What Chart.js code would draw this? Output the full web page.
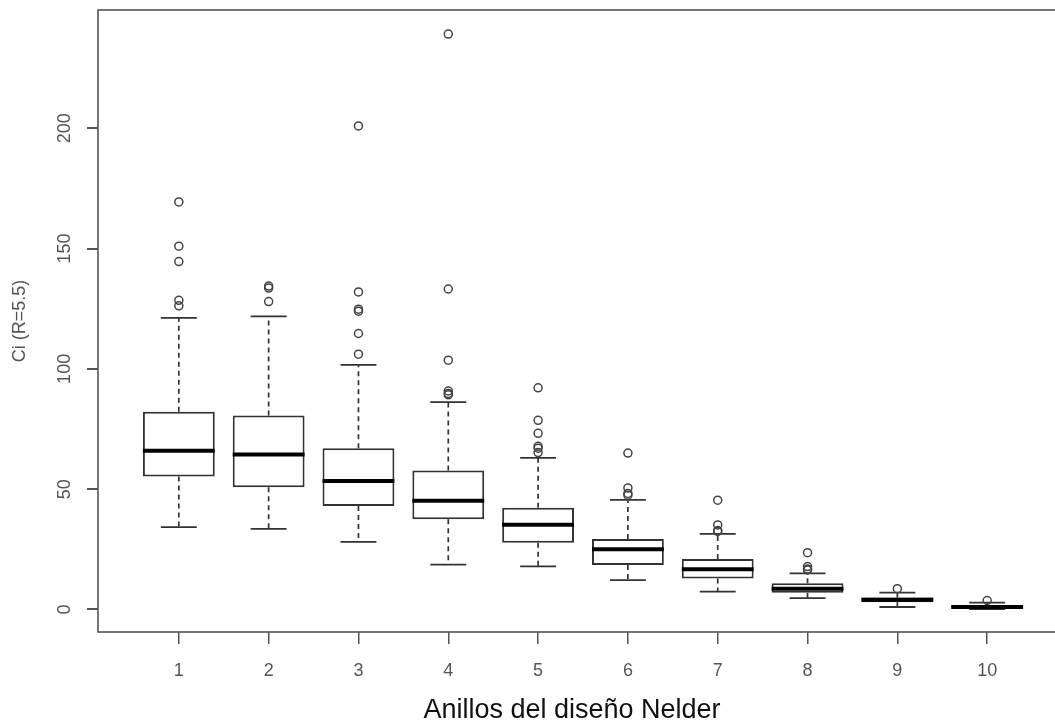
<!DOCTYPE html>
<html>
<head>
<meta charset="utf-8">
<script src="https://cdn.jsdelivr.net/npm/chart.js@4"></script>
<style>
  html, body { margin: 0; padding: 0; background: #fff; overflow: hidden; }
  #wrap { width: 1055px; height: 728px; overflow: hidden; }
  #box { width: 1075px; height: 728px; }
</style>
</head>
<body>
<div id="wrap"><div id="box"><canvas id="chart"></canvas></div></div>
<script>
// rings of the Nelder design and box statistics
const rings = [1, 2, 3, 4, 5, 6, 7, 8, 9, 10];
const lowWhisker = [34.2, 33.5, 28.1, 18.6, 17.9, 12.2, 7.4, 4.7, 1.0, 0.1];
const q1 = [55.2, 50.8, 43.0, 37.5, 27.7, 18.5, 12.8, 6.9, 3.0, 0.5];
const median = [66.0, 64.4, 53.4, 45.2, 35.2, 25.0, 16.7, 8.6, 4.0, 1.0];
const q3 = [82.2, 80.6, 67.0, 57.7, 42.3, 29.3, 21.0, 10.9, 4.9, 1.6];
const highWhisker = [121.2, 121.8, 101.7, 86.2, 63.0, 45.5, 31.4, 15.0, 7.0, 2.8];
const outliers = [
  [169.4, 151.0, 144.6, 128.5, 126.2],
  [134.4, 133.6, 128.0],
  [201.0, 132.0, 124.8, 124.0, 114.7, 106.1],
  [239.2, 133.2, 103.6, 90.8, 89.8, 89.2],
  [92.1, 78.6, 73.2, 67.8, 67.0, 65.2],
  [65.0, 50.5, 48.2, 47.5],
  [45.4, 35.1, 32.8, 32.4],
  [23.6, 17.8, 16.8, 16.4],
  [8.6],
  [3.7]
];
const yTicks = [0, 50, 100, 150, 200];
const xTitle = 'Anillos del diseño Nelder';
const yTitle = 'Ci (R=5.5)';

const lineCol = '#333';
const textCol = '#555';
const capHalf = 0.2;
const medHalf = 0.4;

const datasets = [];

// boxes (Q1..Q3) as floating bars
datasets.push({
  type: 'bar',
  data: rings.map((r, i) => ({ x: r, y: [q1[i], q3[i]] })),
  backgroundColor: '#fff',
  borderColor: lineCol,
  borderWidth: 2,
  borderSkipped: false,
  barPercentage: 0.8,
  categoryPercentage: 1.0,
  order: 2
});

rings.forEach((r, i) => {
  // dashed whiskers
  datasets.push({
    type: 'line',
    data: [{ x: r, y: q3[i] }, { x: r, y: highWhisker[i] }],
    borderColor: lineCol, borderWidth: 1.7, borderDash: [5, 4],
    pointRadius: 0, order: 3
  });
  datasets.push({
    type: 'line',
    data: [{ x: r, y: q1[i] }, { x: r, y: lowWhisker[i] }],
    borderColor: lineCol, borderWidth: 1.7, borderDash: [5, 4],
    pointRadius: 0, order: 3
  });
  // staples
  datasets.push({
    type: 'line',
    data: [{ x: r - capHalf, y: highWhisker[i] }, { x: r + capHalf, y: highWhisker[i] }],
    borderColor: lineCol, borderWidth: 1.8, pointRadius: 0, order: 3
  });
  datasets.push({
    type: 'line',
    data: [{ x: r - capHalf, y: lowWhisker[i] }, { x: r + capHalf, y: lowWhisker[i] }],
    borderColor: lineCol, borderWidth: 1.8, pointRadius: 0, order: 3
  });
  // median
  datasets.push({
    type: 'line',
    data: [{ x: r - medHalf, y: median[i] }, { x: r + medHalf, y: median[i] }],
    borderColor: '#000', borderWidth: 4, pointRadius: 0, order: 1
  });
});

// outlying points
const outPts = [];
rings.forEach((r, i) => outliers[i].forEach(v => outPts.push({ x: r, y: v })));
datasets.push({
  type: 'scatter',
  data: outPts,
  pointStyle: 'circle',
  pointRadius: 4,
  borderColor: '#444',
  backgroundColor: 'rgba(0,0,0,0)',
  borderWidth: 1.5,
  order: 0
});

const frameAndText = {
  id: 'frameAndText',
  afterDraw(chart) {
    const ctx = chart.ctx;
    const a = chart.chartArea;
    const y = chart.scales.y;
    ctx.save();
    ctx.setLineDash([]);
    ctx.strokeStyle = '#555';
    ctx.lineWidth = 1.6;
    ctx.strokeRect(a.left, a.top, a.right - a.left, a.bottom - a.top);
    // y tick marks, outside the frame as in R
    ctx.fillStyle = '#555';
    for (const v of yTicks) {
      const py = Math.round(y.getPixelForValue(v));
      ctx.fillRect(a.left - 11, py - 1, 11, 2);
    }
    // rotated y tick labels
    ctx.fillStyle = textCol;
    ctx.font = '18px "Liberation Sans", Arial, sans-serif';
    ctx.textAlign = 'center';
    ctx.textBaseline = 'middle';
    for (const v of yTicks) {
      ctx.save();
      ctx.translate(65, y.getPixelForValue(v));
      ctx.rotate(-Math.PI / 2);
      ctx.fillText(String(v), 0, 0);
      ctx.restore();
    }
    ctx.fillStyle = '#111';
    ctx.font = '27px "Liberation Sans", Arial, sans-serif';
    ctx.fillText(xTitle, 572, 711);
    ctx.restore();
  }
};

new Chart(document.getElementById('chart'), {
  type: 'bar',
  data: { datasets },
  plugins: [frameAndText],
  options: {
    responsive: true,
    maintainAspectRatio: false,
    animation: false,
    layout: { padding: { top: 10, right: 7, bottom: 0, left: 0 } },
    plugins: { legend: { display: false }, tooltip: { enabled: false } },
    scales: {
      x: {
        type: 'linear',
        min: 0.1,
        max: 10.9,
        offset: false,
        afterFit: s => { s.height = 96; },
        border: { display: false },
        grid: { offset: false, drawOnChartArea: false, drawTicks: true, tickLength: 12, color: '#555', lineWidth: 1.5 },
        ticks: {
          stepSize: 1,
          includeBounds: false,
          padding: 16,
          color: textCol,
          font: { family: '"Liberation Sans", Arial, sans-serif', size: 18 },
          maxRotation: 0
        }
      },
      y: {
        min: -9.4,
        max: 249.2,
        afterFit: s => { s.width = 98; },
        border: { display: false },
        grid: { display: false },
        ticks: { stepSize: 50, includeBounds: false, display: false },
        title: {
          display: true,
          text: yTitle,
          color: textCol,
          padding: { top: 9, bottom: 0 },
          font: { family: '"Liberation Sans", Arial, sans-serif', size: 18 }
        }
      }
    }
  }
});
</script>
</body>
</html>
